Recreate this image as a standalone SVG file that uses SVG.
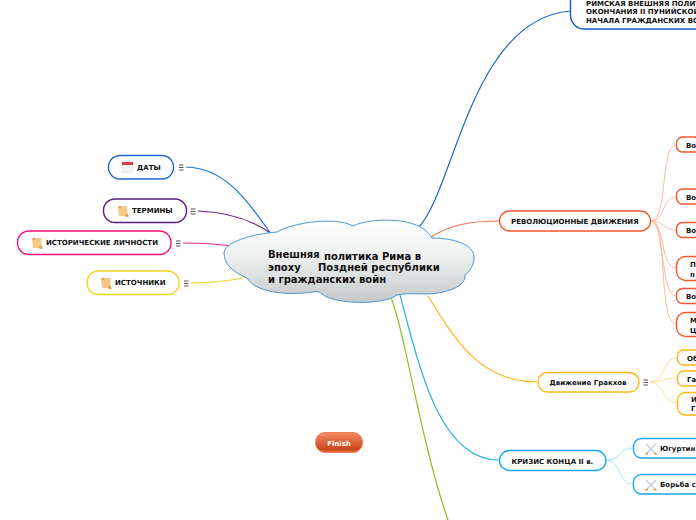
<svg xmlns="http://www.w3.org/2000/svg" width="696" height="520" viewBox="0 0 696 520">
<style>
text{font-family:"DejaVu Sans",Verdana,sans-serif;font-weight:700;fill:#111}
.n{font-size:7px}
.c{font-size:10px}
.b{fill:#fff;stroke-width:1.4}
.l{fill:none;stroke-width:1.2}
.s{fill:none;stroke-width:1}
.ham{stroke:#555;stroke-width:1;fill:none}
</style>
<defs>
<linearGradient id="cloud" x1="0" y1="0" x2="0" y2="1"><stop offset="0" stop-color="#fff"/><stop offset=".45" stop-color="#eef0f0"/><stop offset="1" stop-color="#c4c8c9"/></linearGradient>
<linearGradient id="fin" x1="0" y1="0" x2="0" y2="1"><stop offset="0" stop-color="#f58a63"/><stop offset=".85" stop-color="#c9471c"/><stop offset="1" stop-color="#f26a3c"/></linearGradient>
<g id="ham"><path class="ham" d="M0 0h4.500M0 2.500h4.500M0 5h4.500"/></g>
<g id="scroll"><path d="M1 1h9l1 10h-9z" fill="#f3c987"/><path d="M1 1h3v2h-2zM8 9h3l.5 3h-3z" fill="#dca35c"/></g>
<g id="swords"><path d="M1 1l10 10M11 1l-10 10" stroke="#c4ccd4" stroke-width="1.500" fill="none"/><path d="M9 10l2.500 1.500M3 10l-2.500 1.500" stroke="#e0a040" stroke-width="1.500" fill="none"/></g>
</defs>
<g id="connectors">
<path class="l" stroke="#1f6fdc" d="M186 167C225 168 245 198 272 235"/>
<path class="l" stroke="#6a2a86" d="M198 211C230 212 255 222 272 234"/>
<path class="l" stroke="#f0288c" d="M183 243Q210 243 232 246"/>
<path class="l" stroke="#eed52a" d="M191 283Q220 283 247 277"/>
<path class="l" stroke="#1a66d0" stroke-width="1.500" d="M418 228C455 190 470 20 570 11"/>
<path class="l" stroke="#f0704c" d="M431 237C450 225 470 221 499 221"/>
<path class="l" stroke="#fdb614" d="M428 296C455 340 480 382 537 382"/>
<path class="l" stroke="#2ab0ef" d="M400 295C420 370 440 460 499 460"/>
<path class="l" stroke="#8fbe1e" stroke-width="1.600" d="M390 295C405 330 420 440 448 520"/>
<g stroke="#fdb9a4">
<path class="s" d="M651 221C668 221 660 145 676 145"/>
<path class="s" d="M651 221C665 221 662 197 676 197"/>
<path class="s" d="M651 221C665 221 662 230 676 230"/>
<path class="s" d="M651 221C665 221 660 268 676 268"/>
<path class="s" d="M651 221C665 221 660 296 676 296"/>
<path class="s" d="M651 221C668 221 658 324 676 324"/>
</g>
<g stroke="#fedd98">
<path class="s" d="M650 382C665 382 662 358 677 358"/>
<path class="s" d="M650 382C665 382 662 378 677 378"/>
<path class="s" d="M650 382C665 382 662 403 677 403"/>
</g>
<g stroke="#a8e0f8">
<path class="s" d="M606 460C622 460 617 448 633 448"/>
<path class="s" d="M606 460C622 460 617 484 633 484"/>
</g>
</g>
<g id="center">
<path d="M247 278C232 272 224 263 224 253C224 243 250 234 277 232C292 223 335 216 353 226C368 218 420 215 432 238C455 238 474 245 474 257C474 265 470 271 465 275C466 287 445 294 425 294C415 294 405 293 397 295C385 305 335 305 322 294C318 291 316 291 313 292C285 296 255 292 247 278Z" fill="url(#cloud)" stroke="#4a97d4" stroke-width="1"/>
<text class="c" x="268" y="258">Внешняя</text>
<text class="c" x="324" y="259.500">политика Рима в</text>
<text class="c" x="268" y="270.500">эпоху</text>
<text class="c" x="318" y="271">Поздней республики</text>
<text class="c" x="268" y="282.500">и гражданских войн</text>
</g>
<g id="n-daty">
<rect class="b" x="108.500" y="155.500" width="65" height="23.500" rx="11.500" stroke="#1d66d6"/>
<rect x="122" y="162" width="11" height="11" fill="#f2f2f2" stroke="#ddd" stroke-width=".5"/><rect x="122" y="162" width="11" height="3" fill="#d84040"/>
<text class="n" x="137" y="170">ДАТЫ</text><use href="#ham" x="179" y="165"/>
</g>
<g id="n-terminy">
<rect class="b" x="103.500" y="199" width="83" height="23.500" rx="11.500" stroke="#561d7a"/>
<use href="#scroll" x="117" y="205"/>
<text class="n" x="132" y="213">ТЕРМИНЫ</text><use href="#ham" x="191" y="209"/>
</g>
<g id="n-lichnosti">
<rect class="b" x="17.500" y="231" width="153.500" height="23.500" rx="11.500" stroke="#f5117a"/>
<use href="#scroll" x="31" y="237"/>
<text class="n" x="46" y="245">ИСТОРИЧЕСКИЕ ЛИЧНОСТИ</text><use href="#ham" x="176" y="241"/>
</g>
<g id="n-istochniki">
<rect class="b" x="87" y="271" width="92" height="23.500" rx="11.500" stroke="#f0d41c"/>
<use href="#scroll" x="100" y="277"/>
<text class="n" x="115" y="285">ИСТОЧНИКИ</text><use href="#ham" x="184" y="281"/>
</g>
<g id="n-rim">
<rect class="b" x="570.500" y="-20" width="160" height="49" rx="14" stroke="#1659c8"/>
<text class="n" x="586" y="6">РИМСКАЯ ВНЕШНЯЯ ПОЛИТ</text>
<text class="n" x="586" y="14">ОКОНЧАНИЯ II ПУНИЙСКОЙ</text>
<text class="n" x="586" y="23">НАЧАЛА ГРАЖДАНСКИХ ВО</text>
</g>
<g id="n-rev">
<rect class="b" x="499.500" y="211" width="151" height="20" rx="10" stroke="#f4582c"/>
<text class="n" x="511" y="224">РЕВОЛЮЦИОННЫЕ ДВИЖЕНИЯ</text>
</g>
<g id="n-r1"><rect class="b" x="676.500" y="137" width="40" height="15" rx="6" stroke="#f4582c"/><text class="n" x="686" y="147.500">Во</text></g>
<g id="n-r2"><rect class="b" x="676.500" y="189" width="40" height="15" rx="6" stroke="#f4582c"/><text class="n" x="686" y="200">Во</text></g>
<g id="n-r3"><rect class="b" x="676.500" y="222.500" width="40" height="15" rx="6" stroke="#f4582c"/><text class="n" x="686" y="233">Во</text></g>
<g id="n-r4"><rect class="b" x="676.500" y="256.500" width="40" height="24" rx="9" stroke="#f4582c"/><text class="n" x="690" y="267">П</text><text class="n" x="690" y="277">п</text></g>
<g id="n-r5"><rect class="b" x="676.500" y="288.500" width="40" height="15" rx="6" stroke="#f4582c"/><text class="n" x="686" y="299">Во</text></g>
<g id="n-r6"><rect class="b" x="676.500" y="312.500" width="40" height="24" rx="9" stroke="#f4582c"/><text class="n" x="690" y="323">М</text><text class="n" x="690" y="333">Ц</text></g>
<g id="n-grakhi">
<rect class="b" x="538" y="372.500" width="101" height="19.500" rx="9.500" stroke="#fdb614"/>
<text class="n" x="549.500" y="385">Движение Гракхов</text><use href="#ham" x="643.500" y="380"/>
</g>
<g id="n-g1"><rect class="b" x="677.500" y="350" width="40" height="15" rx="6" stroke="#fdb614"/><text class="n" x="687" y="360.500">Об</text></g>
<g id="n-g2"><rect class="b" x="677.500" y="371" width="40" height="15" rx="6" stroke="#fdb614"/><text class="n" x="687" y="381.500">Га</text></g>
<g id="n-g3"><rect class="b" x="677.500" y="392.500" width="40" height="22.500" rx="8" stroke="#fdb614"/><text class="n" x="691" y="402">И</text><text class="n" x="691" y="411">Г</text></g>
<g id="n-kriz">
<rect class="b" x="499.500" y="450.500" width="106.500" height="20" rx="10" stroke="#1ba8ee"/>
<text class="n" x="511.500" y="464">КРИЗИС КОНЦА II в.</text>
</g>
<g id="n-k1"><rect class="b" x="633.500" y="438.500" width="90" height="19.500" rx="8" stroke="#1ba8ee"/><use href="#swords" x="645" y="443"/><text class="n" x="660" y="451">Югуртин</text></g>
<g id="n-k2"><rect class="b" x="633.500" y="474.500" width="90" height="19.500" rx="8" stroke="#1ba8ee"/><use href="#swords" x="645" y="479"/><text class="n" x="660" y="487">Борьба с</text></g>
<g id="n-finish">
<rect x="315.500" y="432.500" width="47" height="20" rx="9.500" fill="url(#fin)" stroke="#f0805a" stroke-width="1"/>
<text class="n" x="339" y="446" text-anchor="middle" style="fill:#fff">Finish</text>
</g>
</svg>
